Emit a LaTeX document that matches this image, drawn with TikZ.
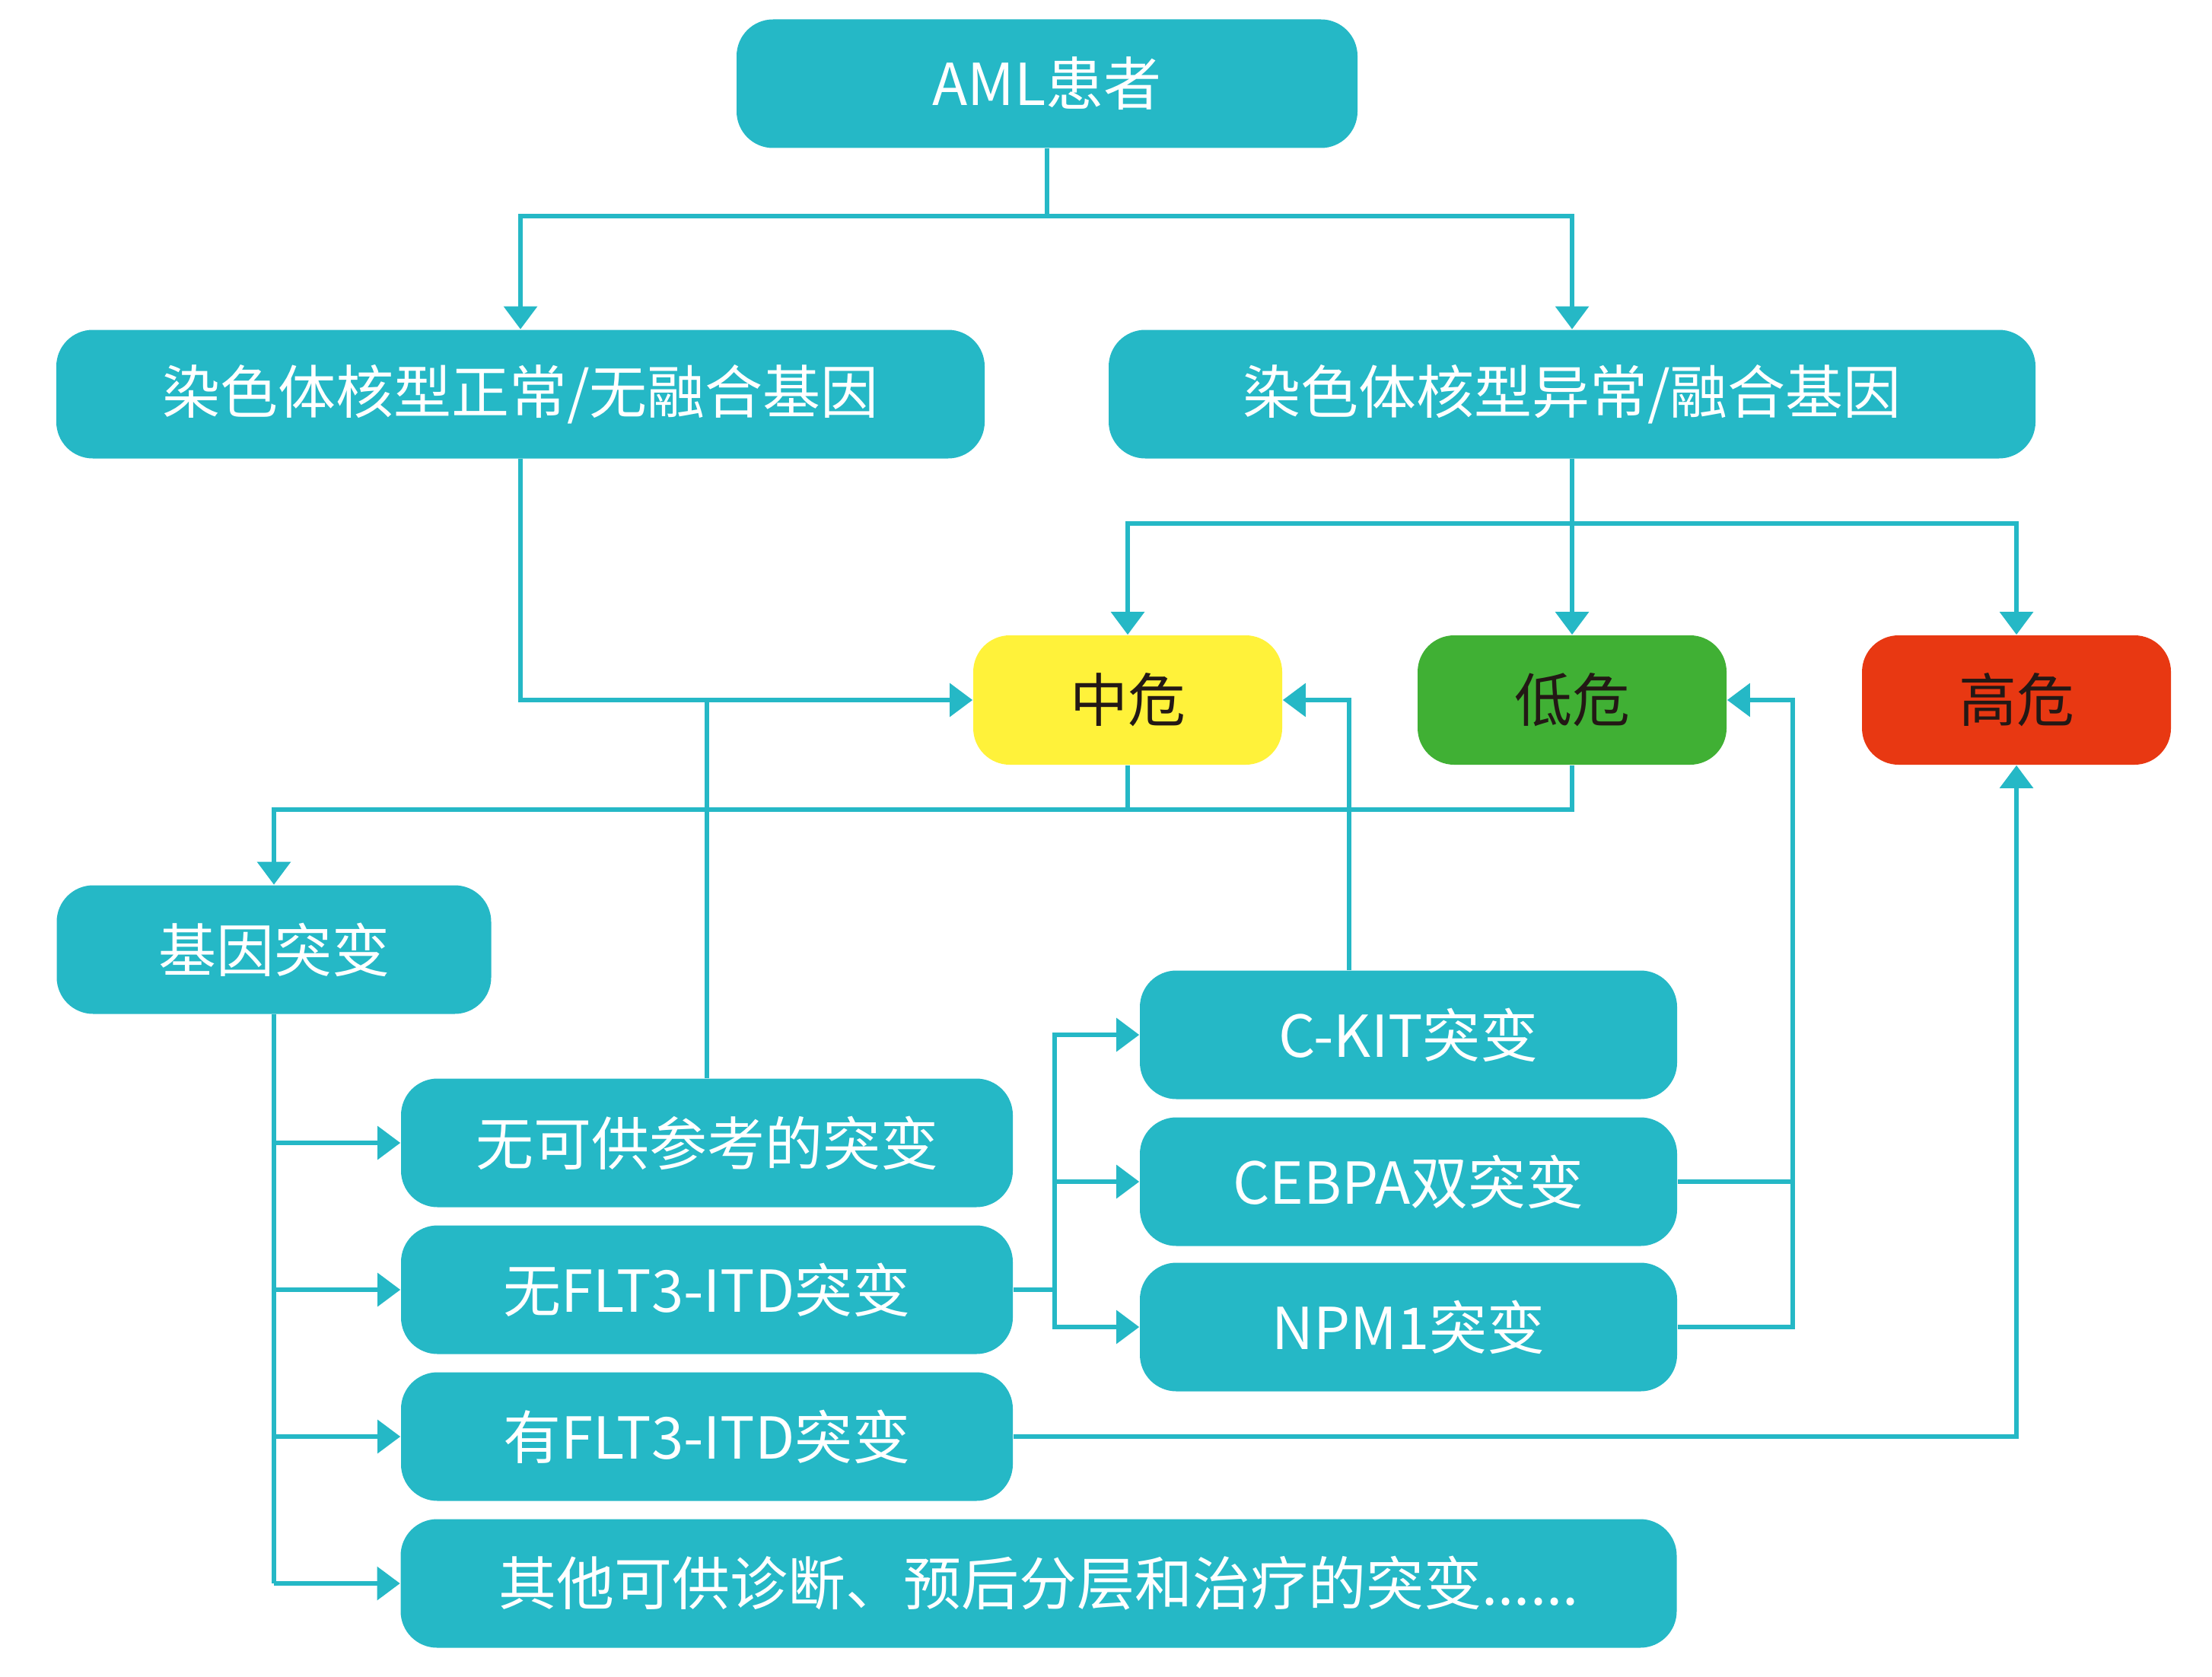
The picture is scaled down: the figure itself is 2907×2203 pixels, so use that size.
\documentclass[tikz,border=0pt]{standalone}
\usepackage{fontspec}
\setmainfont{Noto Sans CJK SC}
\usetikzlibrary{arrows.meta}
\definecolor{tealc}{RGB}{37,184,198}
\definecolor{yelc}{RGB}{255,242,58}
\definecolor{grnc}{RGB}{64,176,52}
\definecolor{redc}{RGB}{232,56,18}
\definecolor{darktxt}{RGB}{35,24,21}
\tikzset{
  boxbase/.style={rectangle, rounded corners=12pt, inner sep=0pt, font=\fontsize{19}{23}\selectfont},
  tbox/.style={boxbase, fill=tealc, text=white},
  rbox/.style={boxbase, text=darktxt, minimum width=101.5pt, minimum height=42.5pt},
  conn/.style={draw=tealc, line width=1.5pt},
  arr/.style={conn, -{Triangle[length=7.5pt,width=10.75pt]}},
}
\begin{document}
\begin{tikzpicture}[x=0.25pt,y=-0.25pt]
\useasboundingbox (0,0) rectangle (2907,2203);
% nodes
\node[tbox, minimum width=204pt, minimum height=42.25pt] (aml) at (1376,110) {AML患者};
\node[tbox, minimum width=305pt, minimum height=42.25pt] (norm) at (684,518) {染色体核型正常/无融合基因};
\node[tbox, minimum width=304.5pt, minimum height=42.25pt] (abn) at (2066,518) {染色体核型异常/融合基因};
\node[rbox, fill=yelc] (mid) at (1482,920) {中危};
\node[rbox, fill=grnc] (low) at (2066,920) {低危};
\node[rbox, fill=redc] (high) at (2650,920) {高危};
\node[tbox, minimum width=142.75pt, minimum height=42.25pt] (gene) at (360,1248) {基因突变};
\node[tbox, minimum width=176.5pt, minimum height=42.25pt] (ckit) at (1851,1360) {C-KIT突变};
\node[tbox, minimum width=176.5pt, minimum height=42.25pt] (cebpa) at (1851,1553) {CEBPA双突变};
\node[tbox, minimum width=176.5pt, minimum height=42.25pt] (npm) at (1851,1744) {NPM1突变};
\node[tbox, minimum width=201pt, minimum height=42.25pt] (noref) at (929,1502) {无可供参考的突变};
\node[tbox, minimum width=201pt, minimum height=42.25pt] (noflt) at (929,1695) {无FLT3-ITD突变};
\node[tbox, minimum width=201pt, minimum height=42.25pt] (yesflt) at (929,1888) {有FLT3-ITD突变};
\node[tbox, minimum width=419.25pt, minimum height=42.25pt] (other) at (1365,2081) {其他可供诊断、预后分层和治疗的突变......};
% junctions
\coordinate (t1) at (1376,284);
\coordinate (t2) at (2066,688);
\coordinate (t3) at (2066,1064);
\coordinate (t4) at (1386,1695);
\coordinate (t5) at (2356,1553);
% connectors
\draw[conn] (aml.south) -- (t1);
\draw[arr] (t1) -| (norm.north);
\draw[arr] (t1) -| (abn.north);
\draw[arr] (norm.south) |- (mid.west);
\draw[conn] (noref.north) -- (noref.north |- mid.west);
\draw[arr] (abn.south) -- (low.north);
\draw[arr] (t2) -| (mid.north);
\draw[arr] (t2) -| (high.north);
\draw[conn] (mid.south) -- (mid.south |- t3);
\draw[arr] (low.south) -- (t3) -| (gene.north);
\draw[conn] (gene.south) -- (gene.south |- other.west);
\draw[arr] (gene.south |- noref.west) -- (noref.west);
\draw[arr] (gene.south |- noflt.west) -- (noflt.west);
\draw[arr] (gene.south |- yesflt.west) -- (yesflt.west);
\draw[arr] (gene.south |- other.west) -- (other.west);
\draw[conn] (noflt.east) -- (t4);
\draw[arr] (t4) |- (ckit.west);
\draw[arr] (t4) |- (cebpa.west);
\draw[arr] (t4) |- (npm.west);
\draw[arr] ([xshift=-19.5pt]ckit.north) |- (mid.east);
\draw[conn] (cebpa.east) -- (t5);
\draw[conn] (npm.east) -| (t5);
\draw[arr] (t5) |- (low.east);
\draw[arr] (yesflt.east) -| (high.south);
\end{tikzpicture}
\end{document}
